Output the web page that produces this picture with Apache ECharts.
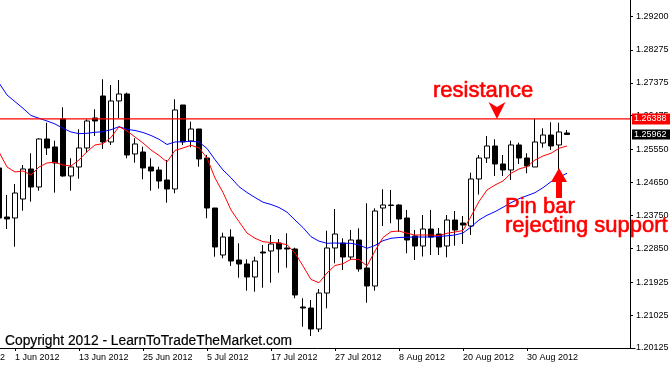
<!DOCTYPE html>
<html>
<head>
<meta charset="utf-8">
<script src="https://cdn.jsdelivr.net/npm/echarts@6/dist/echarts.min.js"></script>
<style>
html,body{margin:0;padding:0;background:#fff;}
#c{width:671px;height:366px;}
</style>
</head>
<body>
<div id="c"></div>
<script>
const dates = ['30 May 2012','31 May 2012','1 Jun 2012','4 Jun 2012','5 Jun 2012','6 Jun 2012','7 Jun 2012','8 Jun 2012','11 Jun 2012','12 Jun 2012',
'13 Jun 2012','14 Jun 2012','15 Jun 2012','18 Jun 2012','19 Jun 2012','20 Jun 2012','21 Jun 2012','22 Jun 2012','25 Jun 2012','26 Jun 2012',
'27 Jun 2012','28 Jun 2012','29 Jun 2012','2 Jul 2012','3 Jul 2012','4 Jul 2012','5 Jul 2012','6 Jul 2012','9 Jul 2012','10 Jul 2012',
'11 Jul 2012','12 Jul 2012','13 Jul 2012','16 Jul 2012','17 Jul 2012','18 Jul 2012','19 Jul 2012','20 Jul 2012','23 Jul 2012','24 Jul 2012',
'25 Jul 2012','26 Jul 2012','27 Jul 2012','30 Jul 2012','31 Jul 2012','1 Aug 2012','2 Aug 2012','3 Aug 2012','6 Aug 2012','7 Aug 2012',
'8 Aug 2012','9 Aug 2012','10 Aug 2012','13 Aug 2012','14 Aug 2012','15 Aug 2012','16 Aug 2012','17 Aug 2012','20 Aug 2012','21 Aug 2012',
'22 Aug 2012','23 Aug 2012','24 Aug 2012','27 Aug 2012','28 Aug 2012','29 Aug 2012','30 Aug 2012','31 Aug 2012','3 Sep 2012','4 Sep 2012',
'5 Sep 2012','6 Sep 2012'];
const futureDates = ['7 Sep 2012','10 Sep 2012','11 Sep 2012','12 Sep 2012','13 Sep 2012','14 Sep 2012','17 Sep 2012','18 Sep 2012'];
const axisDates = ['1 Jun 2012','13 Jun 2012','25 Jun 2012','5 Jul 2012','17 Jul 2012','27 Jul 2012','8 Aug 2012','20 Aug 2012','30 Aug 2012'];

const opens = [1.25046,1.23706,1.23679,1.24198,1.25019,1.24526,1.25839,1.25620,1.26386,1.24827,
1.25073,1.25593,1.26413,1.27014,1.25757,1.26878,1.27069,1.25429,1.25483,1.25073,
1.24991,1.24718,1.24472,1.26768,1.25784,1.26112,1.25319,1.23952,1.22667,1.23159,
1.22531,1.22421,1.22066,1.22749,1.22777,1.22995,1.22859,1.22831,1.21246,1.21218,
1.20644,1.21628,1.22859,1.22995,1.22613,1.23077,1.22312,1.21820,1.23952,1.24034,
1.24034,1.23679,1.23187,1.22913,1.23378,1.23241,1.22913,1.23624,1.23542,1.23460,
1.24745,1.25319,1.25647,1.25155,1.24991,1.25675,1.25319,1.25073,1.25729,1.25948,
1.25675,1.26003];
const closes = [1.23679,1.23652,1.24362,1.25019,1.24526,1.25839,1.25593,1.25183,1.24827,1.25073,
1.25593,1.26331,1.26331,1.25757,1.26878,1.27069,1.25401,1.25702,1.25046,1.24964,
1.24690,1.24472,1.26632,1.25757,1.26112,1.25292,1.23952,1.22886,1.23159,1.22503,
1.22421,1.22066,1.22503,1.22722,1.22968,1.22831,1.22831,1.21574,1.21218,1.20644,
1.21628,1.22859,1.23241,1.22613,1.23077,1.22285,1.21820,1.23870,1.24034,1.24021,
1.23652,1.23077,1.22913,1.23378,1.23159,1.22886,1.23624,1.23351,1.23487,1.24745,
1.25319,1.25647,1.25155,1.24991,1.25675,1.25319,1.25101,1.25757,1.25948,1.25647,
1.26030,1.25962];
const lows = [1.23570,1.23378,1.22894,1.23879,1.24125,1.24425,1.25401,1.24371,1.24808,1.24425,
1.24753,1.25464,1.25921,1.25565,1.25675,1.26405,1.25311,1.25191,1.24737,1.24425,
1.24480,1.24097,1.24354,1.25675,1.25612,1.25081,1.23671,1.22621,1.22577,1.22367,
1.22047,1.21691,1.21664,1.21773,1.21910,1.22183,1.22320,1.21484,1.20707,1.20453,
1.20562,1.21210,1.22440,1.22257,1.22531,1.22211,1.21363,1.21691,1.23460,1.23534,
1.23296,1.22714,1.22531,1.22626,1.22667,1.22667,1.22604,1.22922,1.22968,1.23214,
1.24321,1.25183,1.24827,1.24827,1.24718,1.25155,1.24901,1.25073,1.25601,1.25538,
1.24499,1.25948];
const highs = [1.25128,1.24308,1.24608,1.25128,1.25448,1.25858,1.26284,1.25792,1.26705,1.25311,
1.26104,1.26377,1.26651,1.27471,1.27315,1.27452,1.27105,1.25858,1.25628,1.25311,
1.25081,1.25265,1.26924,1.26768,1.26312,1.26112,1.25401,1.23952,1.23277,1.23370,
1.22987,1.22550,1.22621,1.22941,1.23214,1.23105,1.23261,1.22867,1.21484,1.21437,
1.21738,1.23332,1.23925,1.23124,1.23351,1.23397,1.24081,1.23944,1.24464,1.24444,
1.24053,1.23898,1.23351,1.23761,1.23898,1.23405,1.23761,1.23870,1.23734,1.24917,
1.25401,1.25921,1.25831,1.25401,1.25792,1.25738,1.25448,1.26386,1.26131,1.26295,
1.26284,1.26085];
const maFast = [1.25483,1.25073,1.24937,1.24964,1.24854,1.25073,1.25183,1.25202,1.25128,1.25101,
1.25265,1.25492,1.25675,1.25710,1.25880,1.26175,1.26057,1.25893,1.25729,1.25538,
1.25388,1.25210,1.25524,1.25593,1.25667,1.25593,1.25319,1.24772,1.24376,1.23898,
1.23578,1.23269,1.23124,1.23031,1.23009,1.22995,1.22949,1.22722,1.22367,1.21998,
1.21910,1.22175,1.22380,1.22429,1.22550,1.22544,1.22367,1.22777,1.23146,1.23304,
1.23323,1.23261,1.23214,1.23214,1.23214,1.23200,1.23261,1.23296,1.23337,1.23720,
1.24130,1.24444,1.24581,1.24690,1.24901,1.25019,1.25081,1.25265,1.25374,1.25448,
1.25584,1.25647];
const maSlow = [1.27370,1.27042,1.26859,1.26678,1.26481,1.26405,1.26331,1.26249,1.26131,1.26030,
1.25984,1.25995,1.26022,1.26038,1.26093,1.26175,1.26104,1.26071,1.26016,1.25934,
1.25831,1.25688,1.25757,1.25765,1.25776,1.25757,1.25579,1.25273,1.24991,1.24778,
1.24535,1.24376,1.24239,1.24111,1.24048,1.23966,1.23838,1.23624,1.23416,1.23168,
1.23045,1.22987,1.22995,1.22987,1.22987,1.22941,1.22850,1.22927,1.23058,1.23124,
1.23146,1.23154,1.23159,1.23159,1.23159,1.23173,1.23192,1.23214,1.23269,1.23433,
1.23624,1.23753,1.23851,1.23971,1.24097,1.24207,1.24289,1.24371,1.24507,1.24671,
1.24792,1.24901];
const yTicks = [1.20125,1.21025,1.21925,1.22850,1.23750,1.24650,1.25550,1.26475,1.27375,1.28275,1.29200];
const yMin = 1.20125, yMax = 1.29638;
const resistance = 1.26388;
const lastPrice = 1.25962;
const pinBarDate = '5 Sep 2012';
const resistanceArrowDate = '24 Aug 2012';

const FONT = 'Liberation Sans';
const chart = echarts.init(document.getElementById('c'), null, {renderer:'canvas'});
const candleData = opens.map((o,i)=>[o, closes[i], lows[i], highs[i]]);
const cats = dates.concat(futureDates);
const showDate = (i, v) => axisDates.indexOf(v) >= 0;

chart.setOption({
  animation:false,
  backgroundColor:'#ffffff',
  grid:{left:-5, right:36, top:0, bottom:18, containLabel:false, outerBoundsMode:'none'},
  xAxis:{
    type:'category', data:cats, boundaryGap:true,
    axisLine:{show:true, lineStyle:{color:'#000', width:1}},
    axisTick:{show:true, alignWithLabel:true, interval:showDate, length:3, lineStyle:{color:'#000'}},
    axisLabel:{interval:showDate, align:'left', margin:5, fontSize:9, color:'#000', fontFamily:FONT},
    splitLine:{show:false}
  },
  yAxis:{
    type:'value', position:'right', offset:-5, min:yMin, max:yMax, scale:true,
    splitLine:{show:false},
    axisLine:{show:true, onZero:false, lineStyle:{color:'#000', width:1}},
    axisTick:{show:true, length:3, customValues:yTicks, lineStyle:{color:'#000'}},
    axisLabel:{customValues:yTicks, formatter:v=>v.toFixed(5), fontSize:9, color:'#000', margin:6, fontFamily:FONT}
  },
  series:[
    {type:'candlestick', data:candleData, barWidth:5, z:2,
     itemStyle:{color:'#ffffff', color0:'#000000', borderColor:'#000000', borderColor0:'#000000', borderWidth:1}
    },
    {type:'line', data:maSlow, symbol:'none', z:3, lineStyle:{color:'#0000ff', width:1}},
    {type:'line', data:maFast, symbol:'none', z:3, lineStyle:{color:'#ff0000', width:1}}
  ]
});

const yRes = chart.convertToPixel({yAxisIndex:0}, resistance);
const yLast = chart.convertToPixel({yAxisIndex:0}, lastPrice);
const xPin = chart.convertToPixel({xAxisIndex:0}, pinBarDate);
const xArr = chart.convertToPixel({xAxisIndex:0}, resistanceArrowDate) + 2;
const yPinTip = 168;

chart.setOption({
  graphic:[
    {type:'line', shape:{x1:0, y1:yRes, x2:630, y2:yRes}, style:{stroke:'#ff0000', lineWidth:1.3}, z:50},
    {type:'rect', shape:{x:632, y:yRes-5.5, width:38, height:11}, style:{fill:'#ff0000'}, z:100},
    {type:'text', x:634, y:yRes, style:{text:resistance.toFixed(5), fill:'#fff', fontSize:9, fontFamily:FONT, verticalAlign:'middle'}, z:101},
    {type:'rect', shape:{x:632, y:yLast-5, width:38, height:10}, style:{fill:'#000000'}, z:100},
    {type:'text', x:634, y:yLast, style:{text:lastPrice.toFixed(5), fill:'#fff', fontSize:9, fontFamily:FONT, verticalAlign:'middle'}, z:101},
    {type:'polygon', shape:{points:[[xArr-8.5,yRes-17],[xArr,yRes-12],[xArr+8.5,yRes-17],[xArr,yRes]]}, style:{fill:'#ff0000'}, z:100},
    {type:'polygon', shape:{points:[[xPin,yPinTip],[xPin+8,yPinTip+14],[xPin+3,yPinTip+14],[xPin+3,yPinTip+30],[xPin-3,yPinTip+30],[xPin-3,yPinTip+14],[xPin-8,yPinTip+14]]}, style:{fill:'#ff0000'}, z:100},
    {type:'text', x:433, y:91, style:{text:'resistance', fill:'#ff0000', fontSize:22, fontFamily:FONT, verticalAlign:'middle', stroke:'#ff0000', lineWidth:0.6}, z:100},
    {type:'text', x:505, y:207, style:{text:'Pin bar', fill:'#ff0000', fontSize:22, fontFamily:FONT, verticalAlign:'middle', stroke:'#ff0000', lineWidth:0.6}, z:100},
    {type:'text', x:505, y:226, style:{text:'rejecting support', fill:'#ff0000', fontSize:22, fontFamily:FONT, verticalAlign:'middle', stroke:'#ff0000', lineWidth:0.6}, z:100},
    {type:'text', x:5, y:341, style:{text:'Copyright 2012 - LearnToTradeTheMarket.com', fill:'#000', fontSize:13.8, fontFamily:FONT, verticalAlign:'middle', stroke:'#000', lineWidth:0.2}, z:100},
    {type:'text', x:5, y:358, style:{text:'22 May 2012', fill:'#000', fontSize:9, fontFamily:FONT, align:'right', verticalAlign:'middle'}, z:100}
  ]
});
</script>
</body>
</html>
